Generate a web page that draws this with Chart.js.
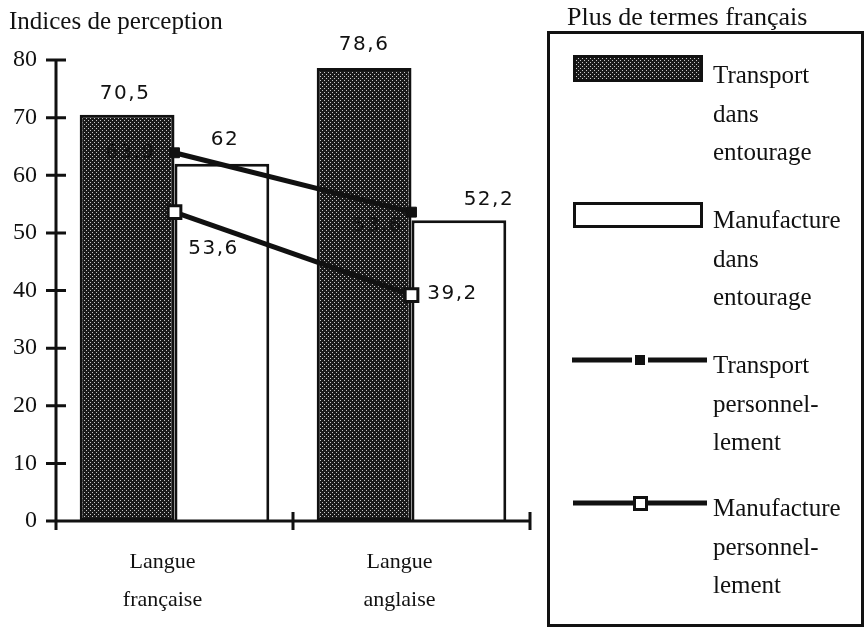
<!DOCTYPE html>
<html>
<head>
<meta charset="utf-8">
<script src="https://cdn.jsdelivr.net/npm/chart.js@4/dist/chart.umd.min.js"></script>
<style>
    body { margin: 0; background: #fff; }
    #wrap { position: relative; width: 866px; height: 627px; font-family: "Liberation Serif", serif; color: #111; }
    #chartBox { position: absolute; left: 0; top: 0; width: 866px; height: 627px; }
    .txt { position: absolute; white-space: nowrap; line-height: 1; }
    #ytitle { left: 9px; top: 8px; font-size: 25px; }
    #legTitle { left: 567px; top: 4px; font-size: 26px; }
    #legBox { position: absolute; left: 547px; top: 31px; width: 311px; height: 590px; border: 3px solid #111; }
    .item { position: absolute; left: 713px; font-size: 25px; line-height: 38.5px; white-space: nowrap; }
</style>
</head>
<body>
<div id="wrap">
    <div id="legBox"></div>
    <div id="chartBox"><canvas id="chart"></canvas></div>
    <div class="txt" id="ytitle">Indices de perception</div>
    <div class="txt" id="legTitle">Plus de termes français</div>
    <div class="item" style="top:56px">Transport<br>dans<br>entourage</div>
    <div class="item" style="top:201px">Manufacture<br>dans<br>entourage</div>
    <div class="item" style="top:346px">Transport<br>personnel-<br>lement</div>
    <div class="item" style="top:489px">Manufacture<br>personnel-<br>lement</div>
</div>
<script>
// Data
const categories = [['Langue', 'française'], ['Langue', 'anglaise']];
const transportEntourage = [70.5, 78.6];
const manufactureEntourage = [62, 52.2];
const transportPersonnel = [63.9, 53.6];
const manufacturePersonnel = [53.6, 39.2];
const yTicks = [0, 10, 20, 30, 40, 50, 60, 70, 80];

// label nudges (dx, dy) per dataset / point
const labelOffsets = [
    [[-2, -21], [0, -23]],
    [[3, -24], [30, -20]],
    [[-44, 0], [-34, 14]],
    [[39, 37], [41, -1]]
];

const INK = '#111';

function dotPattern() {
    const c = document.createElement('canvas');
    c.width = 4; c.height = 4;
    const g = c.getContext('2d');
    g.fillStyle = '#1a1a1a';
    g.fillRect(0, 0, 4, 4);
    g.fillStyle = '#c8c8c8';
    g.fillRect(0, 0, 1, 1);
    g.fillRect(2, 2, 1, 1);
    return g.createPattern(c, 'repeat');
}
const dots = dotPattern();

const fmt = v => String(v).replace('.', ',');

// axis lines with crossing ticks
const axesPlugin = {
    id: 'axesCross',
    afterDatasetsDraw(chart) {
        const { ctx, chartArea: a, scales: { x, y } } = chart;
        ctx.save();
        ctx.strokeStyle = INK;
        ctx.lineWidth = 3;
        ctx.beginPath();
        ctx.moveTo(a.left, y.getPixelForValue(80));
        ctx.lineTo(a.left, a.bottom + 9);
        ctx.moveTo(a.left - 10, a.bottom);
        ctx.lineTo(a.right, a.bottom);
        yTicks.forEach(v => {
            const py = y.getPixelForValue(v);
            ctx.moveTo(a.left - 10, py);
            ctx.lineTo(a.left + 10, py);
        });
        for (let i = 0; i < categories.length; i++) {
            const px = x.getPixelForValue(i + 0.5);
            ctx.moveTo(px, a.bottom - 9);
            ctx.lineTo(px, a.bottom + 9);
        }
        ctx.stroke();
        ctx.restore();
    }
};

// value labels
const valueLabels = {
    id: 'valueLabels',
    afterDatasetsDraw(chart) {
        const ctx = chart.ctx;
        ctx.save();
        ctx.font = '20px "DejaVu Sans", sans-serif';
        ctx.letterSpacing = '1.5px';
        ctx.fillStyle = INK;
        ctx.textAlign = 'center';
        ctx.textBaseline = 'middle';
        chart.data.datasets.forEach((ds, di) => {
            const meta = chart.getDatasetMeta(di);
            meta.data.forEach((el, i) => {
                const [dx, dy] = labelOffsets[di][i];
                ctx.fillText(fmt(ds.data[i]), el.x + dx, el.y + dy);
            });
        });
        ctx.restore();
    }
};

// legend swatches (texts are html)
const legendSwatches = {
    id: 'legendSwatches',
    afterDraw(chart) {
        const ctx = chart.ctx;
        ctx.save();
        ctx.fillStyle = dots;
        ctx.fillRect(573, 55, 130, 27);
        ctx.strokeStyle = INK;
        ctx.lineWidth = 3;
        ctx.strokeRect(574.5, 56.5, 127, 24);

        ctx.fillStyle = '#fff';
        ctx.fillRect(573, 202, 130, 26);
        ctx.strokeRect(574.5, 203.5, 127, 23);

        ctx.lineWidth = 5;
        ctx.beginPath();
        ctx.moveTo(572, 360); ctx.lineTo(632, 360);
        ctx.moveTo(648, 360); ctx.lineTo(707, 360);
        ctx.moveTo(573, 503); ctx.lineTo(634, 503);
        ctx.moveTo(646, 503); ctx.lineTo(707, 503);
        ctx.stroke();
        ctx.fillStyle = INK;
        ctx.fillRect(635, 355, 10, 10);
        ctx.fillStyle = '#fff';
        ctx.fillRect(634, 497, 12, 12);
        ctx.lineWidth = 3;
        ctx.strokeRect(634.5, 497.5, 12, 12);
        ctx.restore();
    }
};

const ctx = document.getElementById('chart').getContext('2d');
new Chart(ctx, {
    type: 'bar',
    data: {
        labels: categories,
        datasets: [
            {
                label: 'Transport dans entourage',
                data: transportEntourage,
                backgroundColor: dots,
                borderColor: INK,
                borderWidth: 3,
                borderSkipped: false,
                order: 2
            },
            {
                label: 'Manufacture dans entourage',
                data: manufactureEntourage,
                backgroundColor: '#fff',
                borderColor: INK,
                borderWidth: 3,
                order: 2
            },
            {
                type: 'line',
                label: 'Transport personnellement',
                data: transportPersonnel,
                borderColor: INK,
                borderWidth: 5,
                pointStyle: 'rect',
                pointRadius: 7,
                pointBackgroundColor: INK,
                pointBorderColor: INK,
                pointBorderWidth: 1,
                order: 1
            },
            {
                type: 'line',
                label: 'Manufacture personnellement',
                data: manufacturePersonnel,
                borderColor: INK,
                borderWidth: 5,
                pointStyle: 'rect',
                pointRadius: 9,
                pointBackgroundColor: '#fff',
                pointBorderColor: INK,
                pointBorderWidth: 3,
                order: 1
            }
        ]
    },
    options: {
        responsive: true,
        maintainAspectRatio: false,
        animation: false,
        layout: { padding: { top: 60, right: 336, left: 0, bottom: 0 } },
        plugins: {
            legend: { display: false },
            tooltip: { enabled: false }
        },
        datasets: {
            bar: { categoryPercentage: 0.8, barPercentage: 1 }
        },
        scales: {
            x: {
                offset: true,
                grid: { display: false, drawTicks: false },
                border: { display: false },
                ticks: {
                    color: INK,
                    padding: 23,
                    labelOffset: -12,
                    maxRotation: 0,
                    font: { family: '"Liberation Serif", serif', size: 22, lineHeight: 1.7 }
                },
                afterFit(scale) { scale.height = 106; }
            },
            y: {
                min: 0,
                max: 80,
                grid: { display: false, drawTicks: false },
                border: { display: false },
                ticks: {
                    stepSize: 10,
                    color: INK,
                    padding: 19,
                    font: { family: '"Liberation Serif", serif', size: 24 }
                },
                afterFit(scale) { scale.width = 56; }
            }
        }
    },
    plugins: [axesPlugin, valueLabels, legendSwatches]
});
</script>
</body>
</html>
